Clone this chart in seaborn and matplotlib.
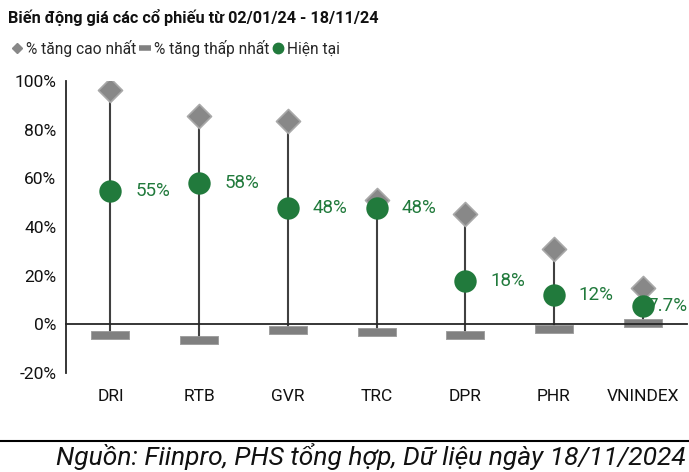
import matplotlib
matplotlib.use("Agg")
import matplotlib.pyplot as plt
from matplotlib.lines import Line2D
import seaborn as sns
import pandas as pd

# data
tickers = ["DRI", "RTB", "GVR", "TRC", "DPR", "PHR", "VNINDEX"]
max_gain = [96.5, 85.5, 83.5, 51.0, 45.5, 31.0, 15.0]
min_gain = [-4.5, -6.5, -2.5, -3.0, -4.5, -2.0, 0.5]
current = [55, 58, 48, 48, 18, 12, 7.7]
current_labels = ["55%", "58%", "48%", "48%", "18%", "12%", "7.7%"]

df = pd.DataFrame({"ticker": tickers, "max": max_gain, "min": min_gain, "cur": current})
df["pos"] = range(len(df))

GREEN = "#217a3c"
GREY = "#888888"

sns.set_style("white")
plt.rcParams["font.family"] = ["Roboto", "DejaVu Sans"]

fig = plt.figure(figsize=(6.89, 4.72), dpi=100)
ax = fig.add_axes([0.096, 0.21, 0.901, 0.618])

# stems
ax.vlines(df["pos"], df["min"], df["max"], color="#404040", lw=1.5, zorder=1)

bar_marker = [(-1, -0.2), (1, -0.2), (1, 0.2), (-1, 0.2), (-1, -0.2)]
sns.scatterplot(data=df, x="pos", y="min", marker=bar_marker, s=720,
                color="#808080", edgecolor="#9a9a9a", linewidth=0.6, ax=ax, zorder=2, legend=False)
sns.scatterplot(data=df, x="pos", y="max", marker="D", s=150,
                color=GREY, edgecolor="#a8a8a8", linewidth=1.2, ax=ax, zorder=2, legend=False)
sns.scatterplot(data=df, x="pos", y="cur", marker="o", s=260,
                color=GREEN, edgecolor=GREEN, linewidth=0, ax=ax, zorder=4, legend=False)

offsets = [18, 18, 18, 18, 18, 18, 3]
for i, (v, lab) in enumerate(zip(current, current_labels)):
    ax.annotate(lab, (i, v), xytext=(offsets[i], 0), textcoords="offset points",
                ha="left", va="center", color=GREEN, fontsize=13.5, zorder=3)

ax.set_xlim(-0.5, len(tickers) - 0.5)
ax.set_ylim(-20, 100)
ax.set_yticks(range(-20, 101, 20))
ax.set_yticklabels([f"{v}%" for v in range(-20, 101, 20)], fontsize=12.5, color="#111111")
ax.set_xlabel("")
ax.set_ylabel("")

# x axis line sits at 0, ticks between categories
ax.spines["bottom"].set_position(("data", 0))
ax.spines["bottom"].set_linewidth(1.3)
ax.spines["left"].set_linewidth(1.3)
for s in ["top", "right"]:
    ax.spines[s].set_visible(False)
ax.set_xticks([i + 0.5 for i in range(len(tickers))])
ax.set_xticklabels([])
ax.tick_params(axis="x", direction="out", length=4, width=1.2, color="black")
ax.tick_params(axis="y", direction="out", length=4, width=1.2, color="black", pad=3)

for i, t in enumerate(tickers):
    ax.text(i, -0.08, t, transform=ax.get_xaxis_transform(), ha="center", va="center",
            fontsize=12.5, color="#111111")

fig.text(0.012, 0.962, "Biến động giá các cổ phiếu từ 02/01/24 - 18/11/24",
         fontsize=11.7, fontweight="bold", ha="left", va="center", color="#111111")

handles = [
    Line2D([], [], marker="D", ls="", color=GREY, markersize=5.5),
    Line2D([], [], marker="_", ls="", color="#808080", markersize=9, markeredgewidth=4),
    Line2D([], [], marker="o", ls="", color=GREEN, markersize=7.5),
]
fig.legend(handles, ["% tăng cao nhất", "% tăng thấp nhất", "Hiện tại"], ncol=3,
           loc="center left", bbox_to_anchor=(-0.004, 0.898), frameon=False,
           fontsize=11.2, handlelength=0.7, handletextpad=0.25, columnspacing=0.2)

fig.add_artist(Line2D([0, 1], [0.066, 0.066], transform=fig.transFigure, color="black", lw=1.5))
fig.text(0.996, 0.004, "Nguồn: Fiinpro, PHS tổng hợp, Dữ liệu ngày 18/11/2024",
         fontsize=19, style="italic", ha="right", va="bottom", color="#111111")

fig.savefig("out.png", dpi=100)
